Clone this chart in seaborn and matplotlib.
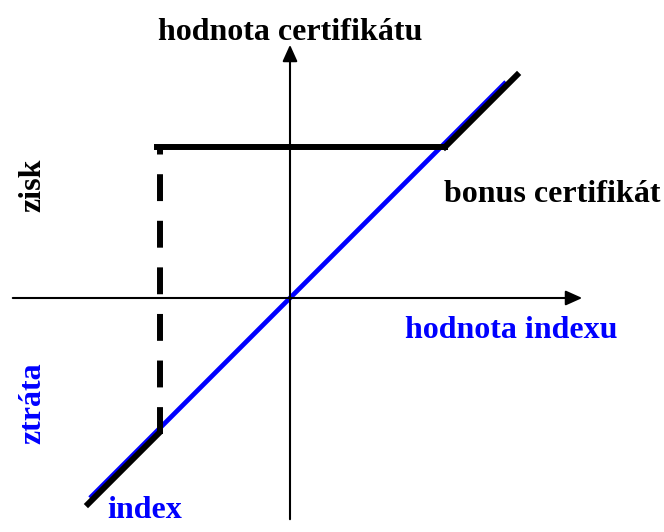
import matplotlib
matplotlib.use('Agg')
import matplotlib.pyplot as plt
import seaborn as sns

# hodnoty grafu (osa x = hodnota indexu, osa y = hodnota certifikatu)
index_x = [-200, 216]
index_y = [-200, 216]

cert_dolni_x = [-202, -132]
cert_dolni_y = [-206, -136]

bariera_x = [-130, -130]
bariera_y = [-136, 151]

bonus_x = [-133, 155]
bonus_y = [151, 151]

cert_horni_x = [155, 227]
cert_horni_y = [151, 223]

sns.set_style('white')
plt.rcParams['font.family'] = ['Liberation Serif', 'DejaVu Serif']

fig = plt.figure(figsize=(6.64, 5.32), dpi=100)
ax = fig.add_axes([0, 0, 1, 1])
ax.set_xlim(-290, 374)
ax.set_ylim(-234, 298)
ax.axis('off')

# osy se sipkami
ax.annotate('', xy=(295, 0), xytext=(-280, 0),
            arrowprops=dict(arrowstyle='-|>,head_length=1.0,head_width=0.45', color='black', lw=1.5))
ax.annotate('', xy=(0, 256), xytext=(0, -224),
            arrowprops=dict(arrowstyle='-|>,head_length=1.0,head_width=0.45', color='black', lw=1.5))

# index
sns.lineplot(x=index_x, y=index_y, color='#0000ff', lw=3.4, ax=ax, estimator=None, sort=False,
             solid_capstyle='butt')

# bonus certifikat
cerna = dict(color='black', lw=4.3, ax=ax, estimator=None, sort=False)
sns.lineplot(x=cert_dolni_x, y=cert_dolni_y, solid_capstyle='projecting', **cerna)
sns.lineplot(x=bariera_x, y=bariera_y, linestyle=(0, (4.5, 3.3)), **cerna)
sns.lineplot(x=bonus_x, y=bonus_y, solid_capstyle='projecting', **cerna)
sns.lineplot(x=cert_horni_x, y=cert_horni_y, solid_capstyle='projecting', **cerna)

# popisky
fs = 23
ax.text(0, 265, 'hodnota certifikátu', ha='center', va='center', fontsize=fs, fontweight='bold', color='black')
ax.text(262, 104, 'bonus certifikát', ha='center', va='center', fontsize=fs, fontweight='bold', color='black')
ax.text(221, -32, 'hodnota indexu', ha='center', va='center', fontsize=fs, fontweight='bold', color='#0000ff')
ax.text(-257, 113, 'zisk', ha='center', va='center', fontsize=fs, fontweight='bold', rotation=90, color='black')
ax.text(-257, -105, 'ztráta', ha='center', va='center', fontsize=fs, fontweight='bold', rotation=90, color='#0000ff')
ax.text(-145, -213, 'index', ha='center', va='center', fontsize=fs, fontweight='bold', color='#0000ff')

fig.savefig('out.png', dpi=100)
